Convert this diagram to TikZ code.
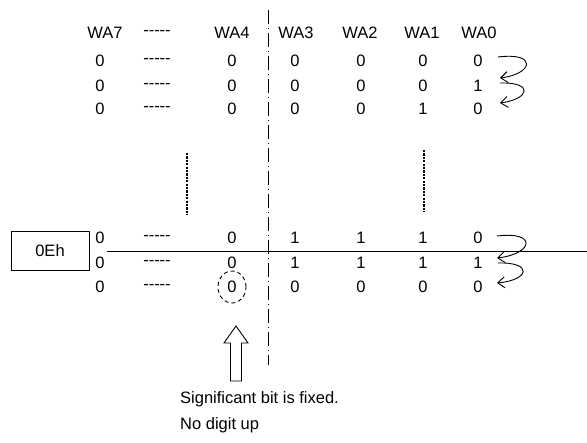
\documentclass[tikz,border=0pt]{standalone}
\usepackage{fontspec}
\setmainfont{Liberation Sans}
\usetikzlibrary{arrows.meta}
\usetikzlibrary{shapes.geometric}

\def\dashes{-\kern0pt-\kern0pt-\kern0pt-\kern0pt-}

\begin{document}
\begin{tikzpicture}[x=1pt,y=-1pt,
  bit/.style={inner sep=0pt,font=\fontsize{16.5}{19}\selectfont},
  dashdot/.style={line width=0.9pt,dash pattern=on 14pt off 4pt on 1pt off 4pt},
  fine/.style={line width=1.4pt,dash pattern=on 2.2pt off 1.2pt},
  carry/.style={-{Straight Barb[length=7pt,width=11pt]},line width=0.9pt}]
\useasboundingbox (0,0) rectangle (587,443);

% header
\node[bit] (h7) at (105,33) {WA7};
\node[bit] (hd) at (157,33) {\dashes};
\node[bit] (h4) at (232,33) {WA4};
\node[bit] (h3) at (296,33) {WA3};
\node[bit] (h2) at (360,33) {WA2};
\node[bit] (h1) at (422,33) {WA1};
\node[bit] (h0) at (479,33) {WA0};

% first rows
\node[bit] (a7) at (100,61) {0};  \node[bit] (ad) at (157,61) {\dashes};
\node[bit] (a4) at (232,61) {0};  \node[bit] (a3) at (295,61) {0};
\node[bit] (a2) at (361,61) {0};  \node[bit] (a1) at (423,61) {0};
\node[bit] (a0) at (478,61) {0};
\node[bit] (b7) at (100,86) {0};  \node[bit] (bd) at (157,86) {\dashes};
\node[bit] (b4) at (232,86) {0};  \node[bit] (b3) at (295,86) {0};
\node[bit] (b2) at (361,86) {0};  \node[bit] (b1) at (423,86) {0};
\node[bit] (b0) at (478,86) {1};
\node[bit] (c7) at (100,109) {0}; \node[bit] (cd) at (157,109) {\dashes};
\node[bit] (c4) at (232,109) {0}; \node[bit] (c3) at (295,109) {0};
\node[bit] (c2) at (361,109) {0}; \node[bit] (c1) at (423,109) {1};
\node[bit] (c0) at (478,109) {0};

% last rows
\node[bit] (d7) at (100,238) {0}; \node[bit] (dd) at (157,238) {\dashes};
\node[bit] (d4) at (232,238) {0}; \node[bit] (d3) at (295,238) {1};
\node[bit] (d2) at (361,238) {1}; \node[bit] (d1) at (423,238) {1};
\node[bit] (d0) at (478,238) {0};
\node[bit] (e7) at (100,263) {0}; \node[bit] (ed) at (157,263) {\dashes};
\node[bit] (e4) at (232,263) {0}; \node[bit] (e3) at (295,263) {1};
\node[bit] (e2) at (361,263) {1}; \node[bit] (e1) at (423,263) {1};
\node[bit] (e0) at (478,263) {1};
\node[bit] (f7) at (100,287) {0}; \node[bit] (fd) at (157,287) {\dashes};
\node[bit] (f4) at (232,287) {0}; \node[bit] (f3) at (295,287) {0};
\node[bit] (f2) at (361,287) {0}; \node[bit] (f1) at (423,287) {0};
\node[bit] (f0) at (478,287) {0};

% register box and line
\node[bit,draw,line width=0.9pt,minimum width=78pt,minimum height=39pt] (reg) at (50,251) {0Eh};
\coordinate (ls) at (107,251);
\coordinate (le) at (587,251);
\draw[line width=0.9pt] (ls) -- (le);

% borders
\coordinate (vt) at (268,10);
\coordinate (vb) at (268,365);
\draw[dashdot] (vt) -- (vb);
\coordinate (l1) at (187,153);
\coordinate (l2) at (187,215);
\draw[fine] (l1) -- (l2);
\coordinate (r1) at (424,150);
\coordinate (r2) at (424,212);
\draw[fine] (r1) -- (r2);

% carries
\coordinate (p1) at (498,57);  \coordinate (q1) at (500,78);
\coordinate (p2) at (500,83);  \coordinate (q2) at (500,103);
\coordinate (p3) at (497,236); \coordinate (q3) at (497,258);
\coordinate (p4) at (498,263); \coordinate (q4) at (497,283);
\draw[carry] (p1) .. controls (538,52) and (533,74) .. (q1);
\draw[carry] (p2) .. controls (534,82) and (530,99) .. (q2);
\draw[carry] (p3) .. controls (538,231) and (533,254) .. (q3);
\draw[carry] (p4) .. controls (533,262) and (530,280) .. (q4);

% fixed bit
\node[draw,line width=0.9pt,dash pattern=on 4pt off 3pt,ellipse,minimum width=28pt,minimum height=32pt] (fix) at (f4) {};
\draw[line width=0.9pt] (236,326) -- (248,343) -- (241.5,343) -- (241.5,381)
  -- (230.5,381) -- (230.5,343) -- (224,343) -- cycle;
\node[bit,anchor=base west] (note) at (180,404) {Significant bit is fixed.};
\node[bit,anchor=base west] (note2) at (180,430) {No digit up};
\end{tikzpicture}
\end{document}
